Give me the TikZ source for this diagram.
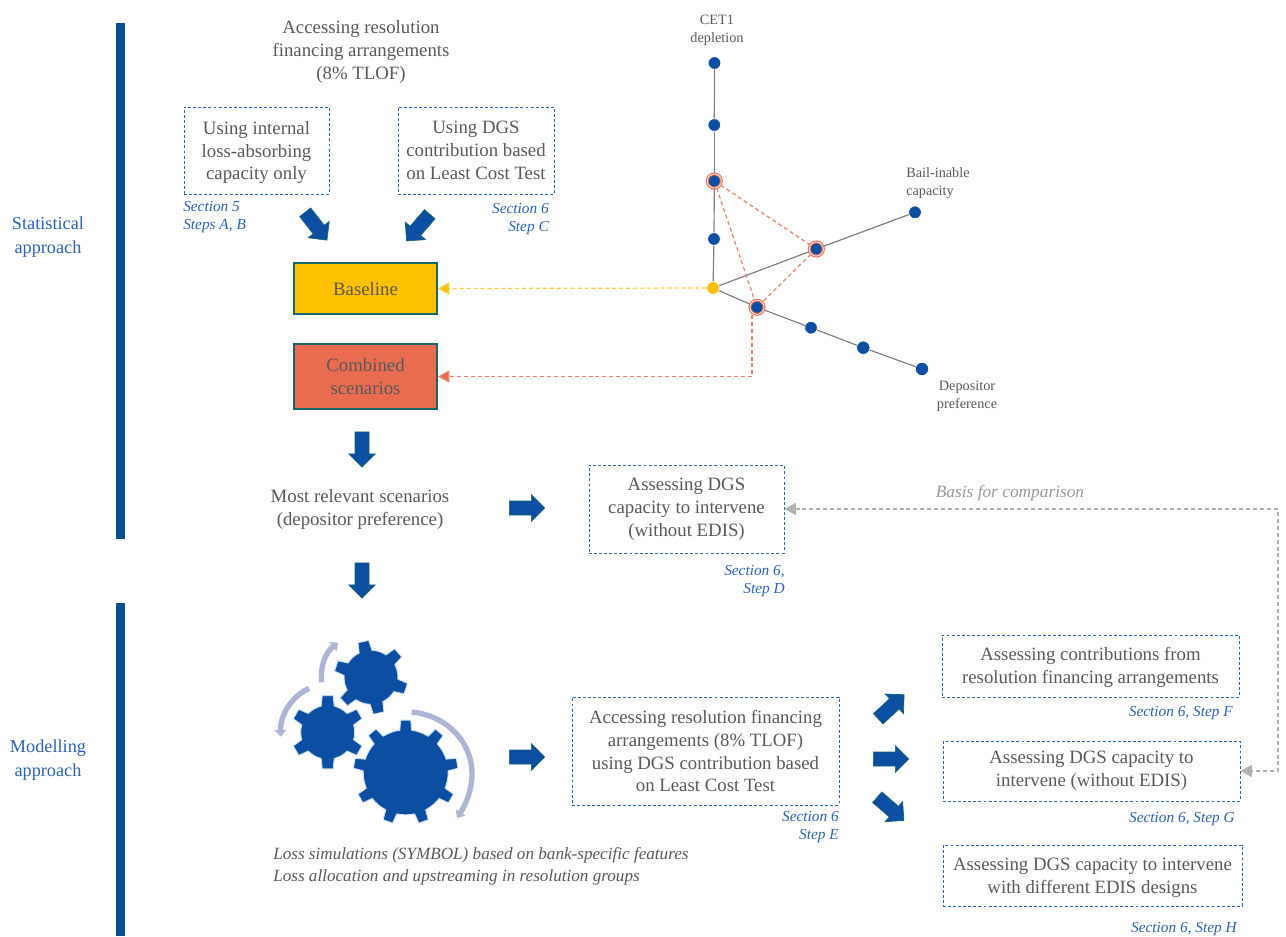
\documentclass[tikz,border=0pt]{standalone}
\usepackage{fontspec}
\setmainfont{Liberation Serif}
\usetikzlibrary{shapes.arrows,arrows.meta}
\definecolor{eublue}{HTML}{0B4EA2}
\definecolor{barblue}{HTML}{0B4F8F}
\definecolor{edgegreen}{HTML}{17666B}
\definecolor{txtgray}{HTML}{595959}
\definecolor{seclabel}{HTML}{2C62B4}
\definecolor{dashblue}{HTML}{2A66B8}
\definecolor{amber}{HTML}{FFC000}
\definecolor{coral}{HTML}{E96C50}
\definecolor{turnblue}{HTML}{AEB4D3}
\definecolor{halo}{HTML}{CFE2F5}
% gear: x, y, valley radius, tip radius, teeth, first angle, half tooth at base, half tooth at tip
\newcommand{\gearwheel}[8]{
	\pgfmathsetmacro{\gstep}{360/#5}
	\pgfmathsetmacro{\gslice}{(\gstep-2*#7)/4}
	\pgfmathtruncatemacro{\glast}{#5-1}
	\draw[gearfill,shift={(#1,#2)}] (#6-#7:#3)
		foreach \i in {0,...,\glast} {
			-- (#6+\i*\gstep-#7:#3) -- (#6+\i*\gstep-#8:#4) -- (#6+\i*\gstep+#8:#4) -- (#6+\i*\gstep+#7:#3)
			-- (#6+\i*\gstep+#7+\gslice:#3) -- (#6+\i*\gstep+#7+2*\gslice:#3) -- (#6+\i*\gstep+#7+3*\gslice:#3)
		} -- cycle;
}
\begin{document}
\begin{tikzpicture}[x=0.75pt,y=-0.75pt,
	plaintext/.style={text=txtgray,align=center,inner sep=0pt,font=\fontsize{14.1}{17.2}\selectfont},
	dashbox/.style={plaintext,draw=dashblue,line width=0.7pt,dash pattern=on 2.2pt off 1.6pt},
	scenbox/.style={plaintext,draw=edgegreen,line width=1.4pt,text depth=-2pt},
	sectext/.style={text=seclabel,inner sep=0pt,font=\fontsize{11.5}{13.4}\selectfont\itshape},
	sidetext/.style={text=seclabel,align=center,inner sep=0pt,font=\fontsize{13.7}{18}\selectfont},
	axistext/.style={text=txtgray,align=center,inner sep=0pt,font=\fontsize{10.7}{13.4}\selectfont},
	fatarrow/.style={single arrow,anchor=tail,draw=edgegreen,fill=eublue,line width=0.5pt,inner xsep=0pt,inner ysep=5pt,minimum height=26.5pt,single arrow head extend=4.75pt,single arrow head indent=0pt},
	dot/.style={circle,fill=eublue,draw=white,line width=0.5pt,inner sep=0pt,minimum size=9.5pt},
	ringdot/.style={circle,fill=eublue,draw=coral,double=white,double distance=0.5pt,line width=0.85pt,inner sep=0pt,minimum size=10.6pt},
	axisline/.style={draw=black!50,line width=0.9pt},
	coraldash/.style={draw=coral!85,dashed,line width=0.9pt,dash pattern=on 3pt off 2.2pt},
	amberdash/.style={draw=amber!80,dashed,line width=0.9pt,dash pattern=on 3pt off 2.2pt},
	graydash/.style={draw=black!30,dashed,line width=0.9pt,dash pattern=on 3pt off 2.2pt},
	turnarrow/.style={draw=turnblue,line width=4pt,-{Triangle[length=5pt,width=8.5pt]}},
	gearfill/.style={fill=eublue,draw=halo,line width=0.7pt,line join=round}]
	\useasboundingbox (0,0) rectangle (1286,936);

	% side bars
	\fill[barblue] (115.5,23) rectangle (124.5,539);
	\fill[barblue] (115.5,603) rectangle (124.5,936);
	\node[sidetext] (stat) at (48,237) {Statistical\\approach};
	\node[sidetext] (model) at (48,760) {Modelling\\approach};

	% upper left
	\node[plaintext] (access) at (361,52) {Accessing resolution\\financing arrangements\\(8\% TLOF)};
	\node[dashbox,text depth=-0.8pt,minimum width=108.75pt,minimum height=65.25pt] (internal) at (256.5,150.5) {Using internal\\loss-absorbing\\capacity only};
	\node[dashbox,minimum width=117pt,minimum height=65.25pt] (dgsltc) at (476,150.5) {Using DGS\\contribution based\\on Least Cost Test};
	\node[sectext,align=left,anchor=west] (secab) at (183,217) {Section 5\\Steps A, B};
	\node[sectext,align=right,anchor=east] (secc) at (549,219) {Section 6\\Step C};
	\node[fatarrow,rotate=-52] (arra) at (305,212) {};
	\node[fatarrow,rotate=229] (arrb) at (430,214) {};
	\node[scenbox,fill=amber,minimum width=107.25pt,minimum height=38.25pt] (baseline) at (365.5,288.5) {Baseline};
	\node[scenbox,fill=coral,minimum width=107.25pt,minimum height=48.75pt] (combined) at (365.5,376.5) {Combined\\scenarios};
	\node[fatarrow,rotate=-90] (arrc) at (362,431.5) {};
	\node[plaintext] (relevant) at (360,509.5) {Most relevant scenarios\\(depositor preference)};
	\node[fatarrow] (arrd) at (509,508) {};
	\node[dashbox,minimum width=146.25pt,minimum height=66pt] (capdgs) at (686.5,509) {Assessing DGS\\capacity to intervene\\(without EDIS)};
	\node[sectext,align=right,anchor=east] (secd) at (785,581) {Section 6,\\Step D};
	\node[fatarrow,rotate=-90] (arre) at (362,562.5) {};

	% axes
	\node[axistext] (cet) at (717,30) {CET1\\depletion};
	\node[axistext,align=left,anchor=west] (bail) at (906,183) {Bail-inable\\capacity};
	\node[axistext] (depo) at (967,396) {Depositor\\preference};
	\node[dot,fill=amber] (root) at (713,288) {};
	\node[dot] (cet1) at (714.5,63) {};
	\node[dot] (cet2) at (714.3,125) {};
	\node[ringdot] (cet3) at (714.3,181) {};
	\node[dot] (cet4) at (714,239) {};
	\node[ringdot] (bail1) at (816.3,249) {};
	\node[dot] (bail2) at (915,212.3) {};
	\node[ringdot] (dep1) at (757,307.3) {};
	\node[dot] (dep2) at (811,327.7) {};
	\node[dot,minimum size=10pt] (dep3) at (863.3,347.7) {};
	\node[dot,minimum size=10pt] (dep4) at (922,369) {};
	\draw[axisline] (root)--(cet4);
	\draw[axisline] (cet4)--(cet3);
	\draw[axisline] (cet3)--(cet2);
	\draw[axisline] (cet2)--(cet1);
	\draw[axisline] (root)--(bail1);
	\draw[axisline] (bail1)--(bail2);
	\draw[axisline] (root)--(dep1);
	\draw[axisline] (dep1)--(dep2);
	\draw[axisline] (dep2)--(dep3);
	\draw[axisline] (dep3)--(dep4);
	\draw[coraldash] (cet3)--(bail1);
	\draw[coraldash] (cet3)--(dep1);
	\draw[coraldash] (bail1)--(dep1);
	\coordinate (elbow) at (752,376.5);
	\draw[coraldash] (dep1.south -| elbow)--(elbow);
	\draw[coraldash,-{Triangle[length=8.5pt,width=9pt,fill=coral]}] (elbow)--(combined.east);
	\draw[amberdash,-{Triangle[length=8.5pt,width=9pt,fill=amber]}] (root)--(baseline.east);

	% gears
	\gearwheel{405.7}{772.3}{42.5}{52.5}{9}{-90}{8}{5.5}
	\gearwheel{327.7}{732.3}{27}{37}{6}{-90}{14}{8.5}
	\gearwheel{371}{677.3}{27}{37}{6}{-102}{14}{8.5}
	\draw[turnarrow] (411.7,712) .. controls (450,716) and (472,745) .. (472,773) .. controls (472,790) and (466,804) .. (457,818);
	\draw[turnarrow] (309,688.3) .. controls (292,696) and (280,715) .. (280.7,736.7);
	\draw[turnarrow] (321.7,682.3) .. controls (320,665) and (326,652) .. (338.3,642.7);
	\node[sectext,align=left,anchor=west,font=\fontsize{12.85}{16.6}\selectfont\itshape,text=txtgray] (losses) at (273,866.5) {Loss simulations (SYMBOL) based on bank-specific features\\Loss allocation and upstreaming in resolution groups};

	% lower right
	\node[fatarrow] (arrf) at (509,757) {};
	\node[dashbox,minimum width=200.25pt,minimum height=81pt] (accessdgs) at (705.5,751) {Accessing resolution financing\\arrangements (8\% TLOF)\\using DGS contribution based\\on Least Cost Test};
	\node[sectext,align=right,anchor=east] (sece) at (839,827) {Section 6\\Step E};
	\node[fatarrow,rotate=43] (arrg) at (878,719) {};
	\node[fatarrow] (arrh) at (873,759) {};
	\node[fatarrow,rotate=-41] (arri) at (877,797) {};
	\node[dashbox,text depth=0.8pt,minimum width=222.75pt,minimum height=46.5pt] (contrib) at (1090.5,666) {Assessing contributions from\\resolution financing arrangements};
	\node[sectext,anchor=east] (secf) at (1233,713) {Section 6, Step F};
	\node[dashbox,minimum width=222.75pt,minimum height=45pt] (capnoedis) at (1091.5,771) {Assessing DGS capacity to\\intervene (without EDIS)};
	\node[sectext,anchor=east] (secg) at (1235,819) {Section 6, Step G};
	\node[dashbox,text depth=-2.2pt,minimum width=224.25pt,minimum height=45.75pt] (capedis) at (1092.5,875.5) {Assessing DGS capacity to intervene\\with different EDIS designs};
	\node[sectext,anchor=east] (sech) at (1237,929) {Section 6, Step H};

	% comparison link
	\coordinate (turna) at (1278,509);
	\coordinate (turnb) at (1278,771);
	\draw[graydash,{Triangle[length=8.5pt,width=9pt,fill=black!30]}-{Triangle[length=8.5pt,width=9pt,fill=black!30]}] (capdgs.east)--(turna)--(turnb)--(capnoedis.east);
	\node[axistext,font=\fontsize{13}{13}\selectfont\itshape,text=black!40] (basis) at (1010,493) {Basis for comparison};
\end{tikzpicture}
\end{document}
